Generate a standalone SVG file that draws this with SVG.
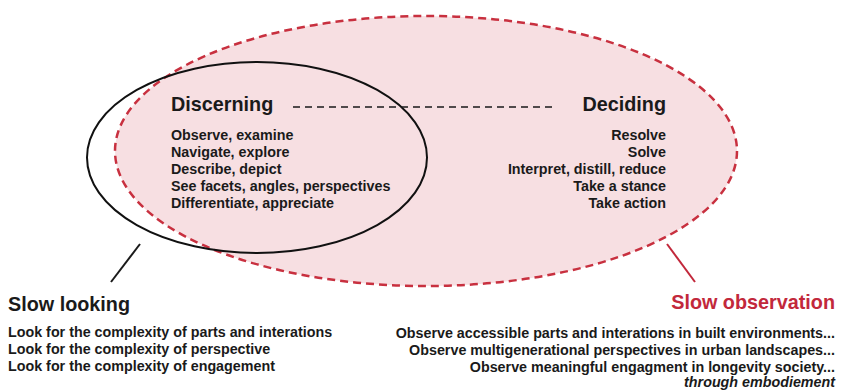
<svg xmlns="http://www.w3.org/2000/svg" width="841" height="390" viewBox="0 0 841 390">
  <style>
    text { font-family: "Liberation Sans", Arial, Helvetica, sans-serif; fill: #1a1a1a; }
    .head { font-size: 19.8px; font-weight: bold; }
    .item { font-size: 14.3px; font-weight: bold; }
    .end { text-anchor: end; }
    .red { fill: #c2283b; }
    .ital { font-style: italic; }
  </style>
  <rect width="841" height="390" fill="#ffffff"/>

  <!-- Slow observation: dashed red field -->
  <g id="slow-observation-area">
    <ellipse cx="426" cy="151" rx="311" ry="135" fill="#f7dfe2" stroke="#c8303f" stroke-width="2.5" stroke-dasharray="8 5"/>
  </g>

  <!-- Slow looking: black outline -->
  <g id="slow-looking-area">
    <ellipse cx="257" cy="157.5" rx="170" ry="95.5" fill="none" stroke="#111111" stroke-width="2"/>
  </g>

  <g id="connectors">
    <line x1="293" y1="107" x2="557" y2="107" stroke="#1a1a1a" stroke-width="1.6" stroke-dasharray="7 5"/>
    <line x1="140" y1="244" x2="111" y2="282" stroke="#1a1a1a" stroke-width="2"/>
    <line x1="667" y1="244" x2="695" y2="282" stroke="#c2283b" stroke-width="2"/>
  </g>

  <g id="discerning">
    <text class="head" x="171" y="111">Discerning</text>
    <text class="item" x="171" y="140">Observe, examine</text>
    <text class="item" x="171" y="157">Navigate, explore</text>
    <text class="item" x="171" y="174">Describe, depict</text>
    <text class="item" x="171" y="191">See facets, angles, perspectives</text>
    <text class="item" x="171" y="208">Differentiate, appreciate</text>
  </g>

  <g id="deciding">
    <text class="head end" x="666" y="111">Deciding</text>
    <text class="item end" x="666" y="140">Resolve</text>
    <text class="item end" x="666" y="157">Solve</text>
    <text class="item end" x="666" y="174">Interpret, distill, reduce</text>
    <text class="item end" x="666" y="191">Take a stance</text>
    <text class="item end" x="666" y="208">Take action</text>
  </g>

  <g id="slow-looking">
    <text class="head" x="8" y="311">Slow looking</text>
    <text class="item" x="8" y="337">Look for the complexity of parts and interations</text>
    <text class="item" x="8" y="354">Look for the complexity of perspective</text>
    <text class="item" x="8" y="371">Look for the complexity of engagement</text>
  </g>

  <g id="slow-observation">
    <text class="head end red" x="835" y="309">Slow observation</text>
    <text class="item end" x="835" y="338">Observe accessible parts and interations in built environments...</text>
    <text class="item end" x="835" y="355">Observe multigenerational perspectives in urban landscapes...</text>
    <text class="item end" x="835" y="372">Observe meaningful engagment in longevity society...</text>
    <text class="item end ital" x="835" y="387">through embodiement</text>
  </g>
</svg>
